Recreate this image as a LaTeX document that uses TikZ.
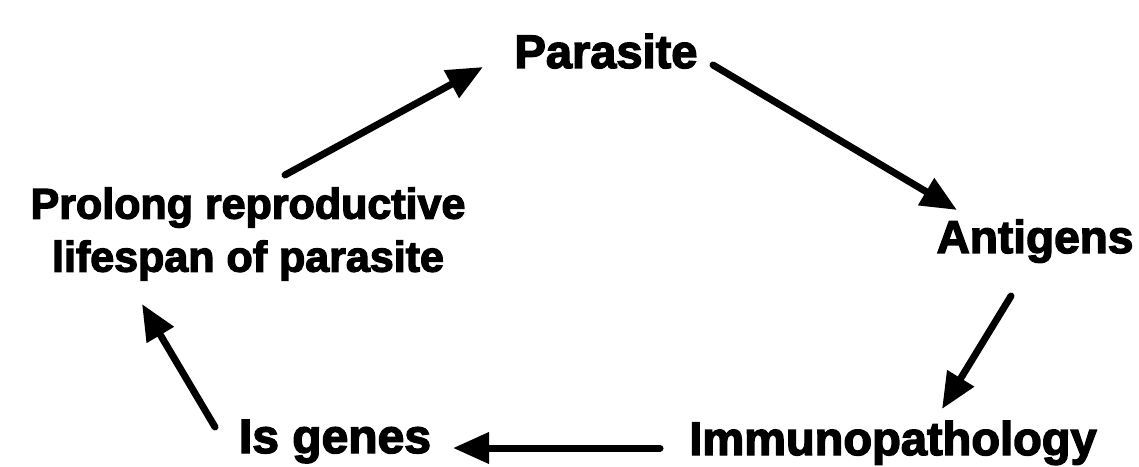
\documentclass[tikz,border=0pt]{standalone}
\usepackage{fontspec}
\setmainfont{Liberation Sans}[BoldFeatures={FakeBold=3}]
\usetikzlibrary{arrows.meta}
\tikzset{
  lbl/.style={inner sep=0pt, font=\bfseries\fontsize{47}{53}\selectfont},
  arr/.style={line width=7pt, line cap=round, -{Triangle[length=36pt,width=30pt]}}
}
\begin{document}
\begin{tikzpicture}[x=1pt,y=1pt]
\useasboundingbox (0,0) rectangle (1139,466);
\node[lbl, anchor=base] (parasite) at (606,398) {Parasite};
\node[lbl, anchor=base, font=\bfseries\fontsize{46}{53}\selectfont] (antigens) at (1035,213) {Antigens};
\node[lbl, anchor=base] (immuno) at (893,11) {Immunopathology};
\node[lbl, anchor=base, font=\bfseries\fontsize{48}{53}\selectfont] (genes) at (335,13) {Is genes};
\node[lbl, align=center, font=\bfseries\fontsize{43}{53}\selectfont] (prolong) at (248,232) {Prolong reproductive\\lifespan of parasite};
\draw[arr] ([shift={(37,59)}]prolong.center) -- ([shift={(-123,1)}]parasite.base);
\draw[arr] ([shift={(107,3)}]parasite.base) -- ([shift={(-78,43)}]antigens.base);
\draw[arr] ([shift={(-24,-43)}]antigens.base) -- ([shift={(49,46)}]immuno.base);
\draw[arr] ([shift={(-233,7)}]immuno.base) -- ([shift={(118,5)}]genes.base);
\draw[arr] ([shift={(-120,26)}]genes.base) -- ([shift={(-106,-70)}]prolong.center);
\end{tikzpicture}
\end{document}
